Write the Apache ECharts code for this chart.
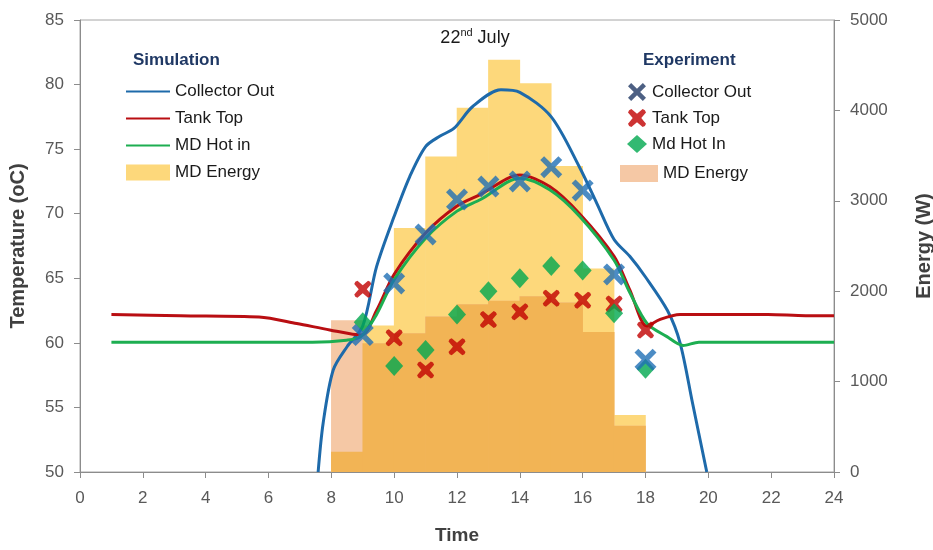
<!DOCTYPE html>
<html>
<head>
<meta charset="utf-8">
<script src="https://cdn.jsdelivr.net/npm/echarts@6/dist/echarts.min.js"></script>
<style>
html,body{margin:0;padding:0;background:#fff;}
#chart{width:933px;height:550px;}
</style>
</head>
<body>
<div id="chart"></div>
<script>
// simulation curves [hour, temperature]
var simCollectorOut = [[7.58,50],[7.74,53.8],[8.06,57.9],[8.5,59.7],[9.0,61.3],[9.44,65.9],[10,69.8],[10.5,72.9],[11,75.2],[11.45,76.0],[11.9,76.6],[12.5,78.3],[13.4,79.6],[14,79.4],[15,77.5],[15.9,73.6],[16.45,70.8],[17,68.0],[17.5,66.7],[18,65.1],[18.7,62.5],[19.1,60.0],[19.5,55.3],[19.95,50]];
var simTankTop = [[1,62.2],[3.2,62.1],[5.7,62.0],[6.9,61.5],[7.95,61.0],[8.95,60.6],[9.44,62.5],[10,65.3],[11,68.5],[12,70.6],[12.75,71.5],[14,73.0],[14.95,72.1],[15.9,70.0],[17,66.7],[17.5,64.1],[18.05,61.3],[18.45,61.8],[19.1,62.2],[21.9,62.2],[23.1,62.1],[24,62.1]];
var simMdHotIn = [[1,60.05],[7.4,60.05],[8.48,60.2],[8.95,60.5],[9.44,62.2],[10,64.9],[11,68.1],[12,70.2],[12.75,71.1],[14,72.75],[14.95,71.85],[15.9,69.8],[17,66.4],[17.5,63.9],[18.05,61.5],[18.67,60.5],[19.2,59.8],[19.7,60.05],[24,60.05]];

// experiment points
var expHours = [9,10,11,12,13,14,15,16,17,18];
var expCollectorOut = [60.6,64.6,68.4,71.1,72.1,72.5,73.6,71.8,65.3,58.7];
var expTankTop = [64.15,60.4,57.9,59.7,61.8,62.4,63.45,63.3,63.0,61.0];
var expMdHotIn = [61.6,58.2,59.45,62.2,64.0,65.0,65.95,65.6,62.3,58.0];

// MD energy per hour (W), bar centres
var energyHours = [8.5,9.5,10.5,11.5,12.5,13.5,14.5,15.5,16.5,17.5];
var simEnergy = [225,1620,2700,3490,4030,4560,4300,3385,2250,630];
var expEnergy = [1680,1425,1535,1720,1855,1895,1945,1875,1550,512];

function pairs(xs, ys){ return xs.map(function(x,i){ return [x, ys[i]]; }); }
// where both bars overlap the colour is darker
var overlap = energyHours.map(function(h,i){ return [h, Math.min(simEnergy[i], expEnergy[i])]; });

var blueX = 'path://M0,3.5 L3.5,0 L10,6.5 L16.5,0 L20,3.5 L13.5,10 L20,16.5 L16.5,20 L10,13.5 L3.5,20 L0,16.5 L6.5,10 Z';
var redX = 'path://M0,3 L1,1 L3,0 L8,4.2 L13,0 L15,1 L16,3 L11.8,8 L16,13 L15,15 L13,16 L8,11.8 L3,16 L1,15 L0,13 L4.2,8 Z';

var tickFont = {fontFamily:'Liberation Sans Narrow, Liberation Sans, Arial', fontSize:17, color:'#595959'};
var nameFont = {fontFamily:'Liberation Sans, Arial', fontSize:20, fontWeight:'bold', color:'#404040'};
var legendFont = {fontFamily:'Liberation Sans, Arial', fontSize:17, color:'#1a1a1a'};
var hide = {opacity:0};

function barStyle(c){ return {color:c}; }

var dom = document.getElementById('chart');
var myChart = echarts.init(dom);
var option = {
    animation: false,
    title: [
        {text:'{a|22}{s|nd}{a| July}', left:470, top:22, textAlign:'center',
         textStyle:{fontWeight:'normal', rich:{a:{fontFamily:'Liberation Sans, Arial', fontSize:18, fontWeight:'normal', color:'#1a1a1a', lineHeight:22},
                          s:{fontFamily:'Liberation Sans, Arial', fontSize:11, fontWeight:'normal', color:'#1a1a1a', verticalAlign:'top', lineHeight:22}}}},
        {text:'Simulation', left:128, top:47, textStyle:{fontFamily:'Liberation Sans, Arial', fontSize:17, fontWeight:'bold', color:'#1F3864'}},
        {text:'Experiment', left:638, top:47, textStyle:{fontFamily:'Liberation Sans, Arial', fontSize:17, fontWeight:'bold', color:'#1F3864'}}
    ],
    legend: [
        {orient:'vertical', left:120, top:78, itemWidth:44, itemHeight:16, itemGap:10, textStyle:legendFont,
         data:[{name:'Collector Out', itemStyle:hide},{name:'Tank Top', itemStyle:hide},{name:'MD Hot in', itemStyle:hide},{name:'MD Energy', icon:'rect'}]},
        {orient:'vertical', left:622, top:78, itemWidth:20, itemHeight:18, itemGap:8, textStyle:legendFont,
         data:[{name:'Collector Out ', itemStyle:{color:'#203864'}},'Tank Top ','Md Hot In']},
        {orient:'vertical', left:615, top:160, itemWidth:38, itemHeight:17, textStyle:legendFont,
         data:[{name:'MD Energy ', icon:'rect'}]}
    ],
    grid: {left:80, right:99, top:20, bottom:78, outerBoundsMode:'none', show:true, borderColor:'#a6a6a6', borderWidth:1},
    xAxis: {
        type:'value', min:0, max:24, interval:2, name:'Time', nameLocation:'middle', nameGap:54,
        nameTextStyle:Object.assign({}, nameFont, {fontSize:19}),
        axisLine:{lineStyle:{color:'#8c8c8c'}}, axisTick:{show:true, length:6, lineStyle:{color:'#8c8c8c'}},
        axisLabel:Object.assign({margin:18}, tickFont), splitLine:{show:false}
    },
    yAxis: [
        {type:'value', min:50, max:85, interval:5, name:'Temperature (oC)', nameLocation:'middle', nameGap:52,
         nameTextStyle:nameFont,
         axisLine:{show:true, lineStyle:{color:'#8c8c8c'}}, axisTick:{show:true, length:6, lineStyle:{color:'#8c8c8c'}},
         axisLabel:Object.assign({margin:16}, tickFont), splitLine:{show:false}},
        {type:'value', min:0, max:5000, interval:1000, name:'Energy (W)', nameLocation:'middle', nameGap:80,
         nameTextStyle:nameFont, nameRotate:90,
         axisLine:{show:true, lineStyle:{color:'#8c8c8c'}}, axisTick:{show:true, length:6, lineStyle:{color:'#8c8c8c'}},
         axisLabel:Object.assign({margin:16, formatter:function(v){ return String(v); }}, tickFont), splitLine:{show:false}}
    ],
    series: [
        {name:'MD Energy', type:'bar', yAxisIndex:1, barWidth:32, barGap:'-100%', data:pairs(energyHours, simEnergy),
         itemStyle:barStyle('#FDD87B')},
        {name:'MD Energy ', type:'bar', yAxisIndex:1, barWidth:32, barGap:'-100%', data:pairs(energyHours, expEnergy),
         itemStyle:barStyle('#F5C8A5')},
        {name:'overlap', type:'bar', yAxisIndex:1, barWidth:32, barGap:'-100%', data:overlap,
         itemStyle:barStyle('#F2B455')},
        {name:'Collector Out', type:'line', data:simCollectorOut, smooth:0.3, symbol:'none',
         lineStyle:{width:3, color:'#1E6AAA'}, itemStyle:{color:'#1E6AAA'}},
        {name:'Tank Top', type:'line', data:simTankTop, smooth:0.3, symbol:'none',
         lineStyle:{width:3, color:'#B90E12'}, itemStyle:{color:'#B90E12'}},
        {name:'MD Hot in', type:'line', data:simMdHotIn, smooth:0.3, symbol:'none',
         lineStyle:{width:3, color:'#1DAE51'}, itemStyle:{color:'#1DAE51'}},
        {name:'Collector Out ', type:'scatter', data:pairs(expHours, expCollectorOut), symbol:blueX, symbolSize:22,
         itemStyle:{color:'#1F6FB5'}, z:4},
        {name:'Tank Top ', type:'scatter', data:pairs(expHours, expTankTop), symbol:redX, symbolSize:17,
         itemStyle:{color:'#C00000'}, z:3},
        {name:'Md Hot In', type:'scatter', data:pairs(expHours, expMdHotIn), symbol:'diamond', symbolSize:[18,20],
         itemStyle:{color:'#00A84F'}, z:3}
    ]
};
myChart.setOption(option, true);
</script>
</body>
</html>
